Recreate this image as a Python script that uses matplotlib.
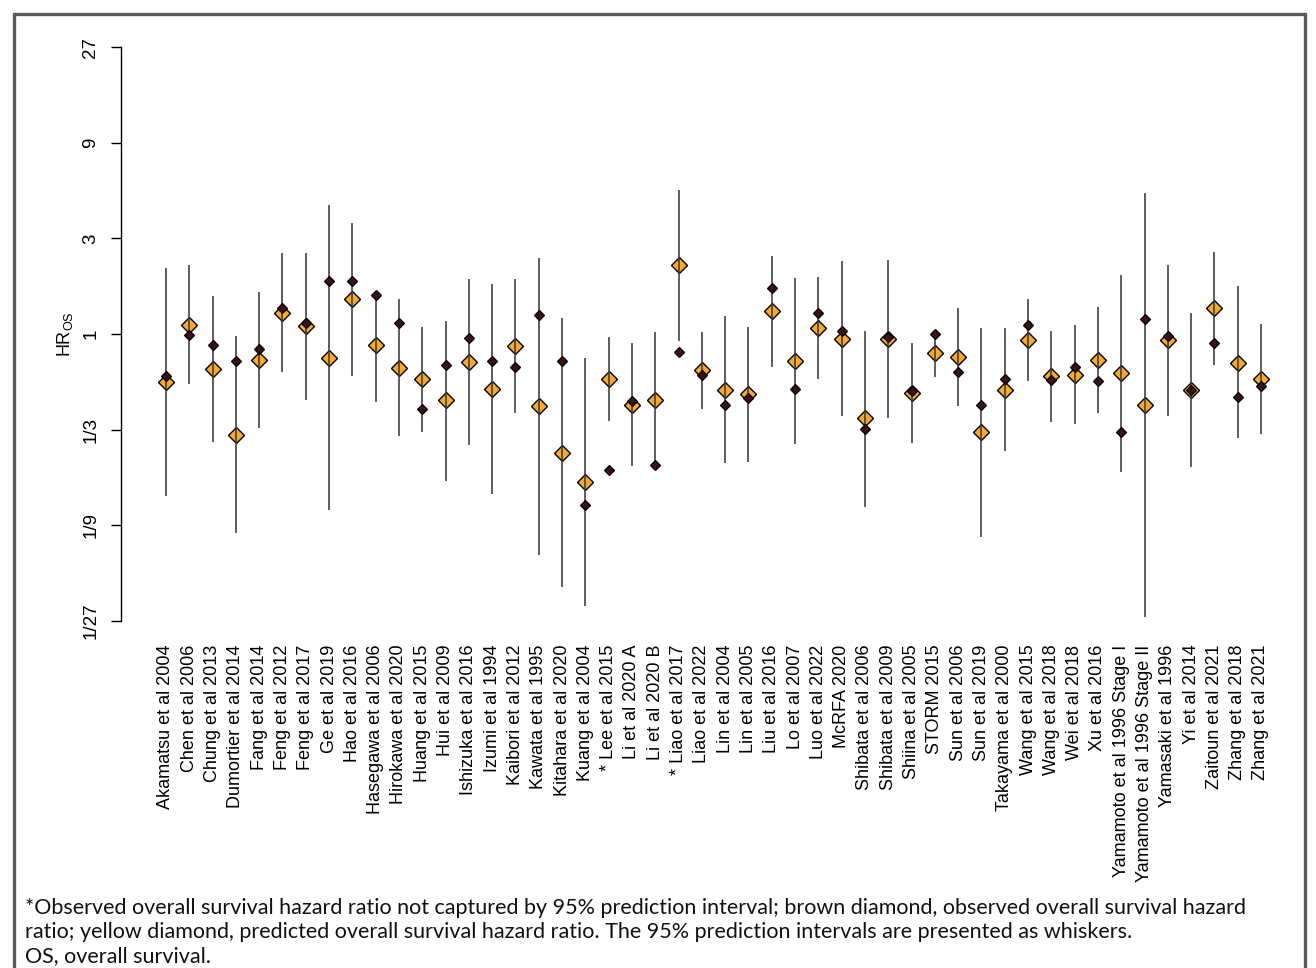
import matplotlib
matplotlib.use('Agg')
import matplotlib.pyplot as plt
from matplotlib.patches import Rectangle
from matplotlib.ticker import NullLocator, FixedLocator
import numpy as np

studies = [
    "Akamatsu et al 2004", "Chen et al 2006", "Chung et al 2013", "Dumortier et al 2014",
    "Fang et al 2014", "Feng et al 2012", "Feng et al 2017", "Ge et al 2019",
    "Hao et al 2016", "Hasegawa et al 2006", "Hirokawa et al 2020", "Huang et al 2015",
    "Hui et al 2009", "Ishizuka et al 2016", "Izumi et al 1994", "Kaibori et al 2012",
    "Kawata et al 1995", "Kitahara et al 2020", "Kuang et al 2004", "* Lee et al 2015",
    "Li et al 2020 A", "Li et al 2020 B", "* Liao et al 2017", "Liao et al 2022",
    "Lin et al 2004", "Lin et al 2005", "Liu et al 2016", "Lo et al 2007",
    "Luo et al 2022", "McRFA 2020", "Shibata et al 2006", "Shibata et al 2009",
    "Shiina et al 2005", "STORM 2015", "Sun et al 2006", "Sun et al 2019",
    "Takayama et al 2000", "Wang et al 2015", "Wang et al 2018", "Wei et al 2018",
    "Xu et al 2016", "Yamamoto et al 1996 Stage I", "Yamamoto et al 1996 Stage II",
    "Yamasaki et al 1996", "Yi et al 2014", "Zaitoun et al 2021", "Zhang et al 2018",
    "Zhang et al 2021",
]

observed = [0.620, 0.985, 0.882, 0.737, 0.839, 1.342, 1.130, 1.834,
            1.840, 1.557, 1.138, 0.422, 0.699, 0.952, 0.732, 0.688,
            1.247, 0.737, 0.140, 0.210, 0.463, 0.2225, 0.814, 0.628,
            0.444, 0.481, 1.699, 0.531, 1.267, 1.035, 0.337, 0.970,
            0.521, 1.000, 0.647, 0.444, 0.598, 1.105, 0.591, 0.683,
            0.582, 0.325, 1.187, 0.977, 0.527, 0.902, 0.486, 0.552]

predicted = [0.575, 1.112, 0.668, 0.315, 0.743, 1.276, 1.096, 0.760,
             1.488, 0.885, 0.675, 0.596, 0.466, 0.723, 0.531, 0.872,
             0.435, 0.255, 0.183, 0.598, 0.444, 0.470, 2.200, 0.660,
             0.527, 0.503, 1.297, 0.734, 1.067, 0.944, 0.379, 0.948,
             0.505, 0.807, 0.766, 0.325, 0.527, 0.930, 0.620, 0.628,
             0.743, 0.638, 0.442, 0.930, 0.527, 1.342, 0.720, 0.598]

pi_lower = [0.155, 0.562, 0.290, 0.102, 0.340, 0.645, 0.470, 0.132,
            0.618, 0.456, 0.309, 0.325, 0.1845, 0.279, 0.160, 0.402,
            0.0788, 0.0545, 0.0441, 0.3665, 0.220, 0.2293, 0.926, 0.422,
            0.2277, 0.2293, 0.688, 0.284, 0.596, 0.388, 0.1376, 0.382,
            0.285, 0.613, 0.435, 0.0976, 0.260, 0.586, 0.362, 0.356,
            0.4035, 0.2054, 0.0389, 0.388, 0.2165, 0.699, 0.302, 0.317]

pi_upper = [2.145, 2.200, 1.545, 0.981, 1.617, 2.527, 2.547, 4.392,
            3.574, 1.580, 1.488, 1.087, 1.164, 1.870, 1.766, 1.870,
            2.405, 1.197, 0.757, 0.970, 0.899, 1.020, 5.256, 1.023,
            1.229, 1.087, 2.441, 1.905, 1.920, 2.306, 1.035, 2.351,
            0.902, 1.010, 1.342, 1.075, 1.067, 1.488, 1.031, 1.105,
            1.362, 1.971, 5.038, 2.220, 1.276, 2.565, 1.726, 1.117]

ytick_vals = [1/27, 1/9, 1/3, 1, 3, 9, 27]
ytick_labels = ["1/27", "1/9", "1/3", "1", "3", "9", "27"]

footnote = [
    "*Observed overall survival hazard ratio not captured by 95% prediction interval; brown diamond, observed overall survival hazard",
    "ratio; yellow diamond, predicted overall survival hazard ratio. The 95% prediction intervals are presented as whiskers.",
    "OS, overall survival.",
]

YELLOW = '#F9AA2A'
BROWN = '#3B1216'

plt.rcParams['font.family'] = ['Liberation Sans', 'DejaVu Sans']

W, H = 1316, 968
fig = plt.figure(figsize=(W / 100, H / 100), dpi=100)
ax = fig.add_axes([121 / W, 1 - 621 / H, (1290 - 121) / W, 574 / H])
ax.set_yscale('log', base=3)
ax.set_ylim(1 / 27, 27)
x = np.arange(len(studies))
ax.set_xlim(-1.931, 48.245)

ax.plot(x, predicted, 'D', ms=7.8, mfc=YELLOW, mec='black', mew=1.0,
        ls='none', zorder=2, clip_on=False)
ax.vlines(x, pi_lower, pi_upper, color='#3a3a3a', lw=1.15, zorder=3)
ax.plot(x, observed, 'D', ms=5.5, mfc=BROWN, mec='black', mew=0.9,
        ls='none', zorder=4, clip_on=False)

ax.yaxis.set_major_locator(FixedLocator(ytick_vals))
ax.yaxis.set_minor_locator(NullLocator())
ax.set_yticklabels(ytick_labels, rotation=90, va='center', fontsize=13.5)
ax.tick_params(axis='y', length=7.5, width=1.0, pad=8, color='black')

ax.set_xticks(x)
ax.set_xticklabels(studies, rotation=90, ha='center', va='top', fontsize=13)
ax.tick_params(axis='x', length=0, pad=17)

for s in ['top', 'right', 'bottom']:
    ax.spines[s].set_visible(False)
ax.spines['left'].set_linewidth(1.0)

fig.text(65 / W, 1 - 334 / H, r'HR$_{\mathregular{OS}}$', rotation=90,
         ha='center', va='center', fontsize=13)

for i, line in enumerate(footnote):
    fig.text(25 / W, 1 - (908 + 24 * i) / H, line, ha='left', va='center',
             fontsize=15.5, family=['Lato', 'DejaVu Sans'], color='#111111')

frame = Rectangle((13.7 / W, -0.05), (1304.5 - 13.7) / W, 1 - 13.7 / H + 0.05,
                  transform=fig.transFigure, fill=False, edgecolor='#5a5a5a',
                  lw=2.4, zorder=0)
fig.patches.append(frame)

fig.savefig('out.png', dpi=100)
